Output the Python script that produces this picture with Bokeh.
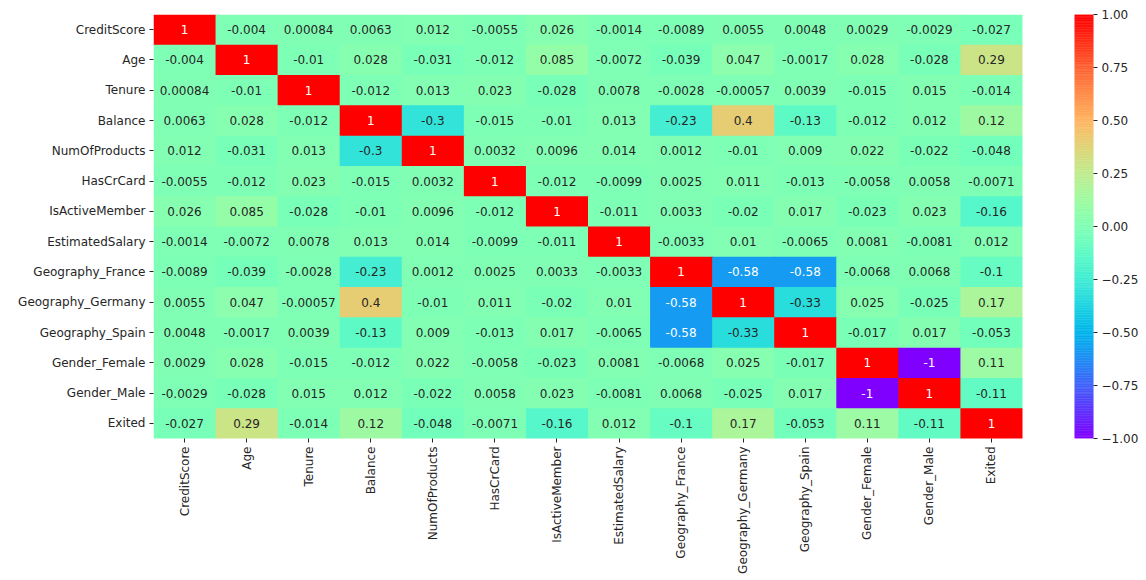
import math
from bokeh.plotting import figure
from bokeh.models import (ColumnDataSource, LinearColorMapper, FixedTicker,
                          CustomJSTickFormatter)
from bokeh.layouts import row
from bokeh.transform import transform
from bokeh.core.properties import value
from bokeh.embed import file_html
from bokeh.resources import INLINE

labels = ["CreditScore", "Age", "Tenure", "Balance", "NumOfProducts", "HasCrCard",
          "IsActiveMember", "EstimatedSalary", "Geography_France", "Geography_Germany",
          "Geography_Spain", "Gender_Female", "Gender_Male", "Exited"]

credit_score = [1, -0.004, 0.00084, 0.0063, 0.012, -0.0055, 0.026, -0.0014, -0.0089, 0.0055, 0.0048, 0.0029, -0.0029, -0.027]
age = [-0.004, 1, -0.01, 0.028, -0.031, -0.012, 0.085, -0.0072, -0.039, 0.047, -0.0017, 0.028, -0.028, 0.29]
tenure = [0.00084, -0.01, 1, -0.012, 0.013, 0.023, -0.028, 0.0078, -0.0028, -0.00057, 0.0039, -0.015, 0.015, -0.014]
balance = [0.0063, 0.028, -0.012, 1, -0.3, -0.015, -0.01, 0.013, -0.23, 0.4, -0.13, -0.012, 0.012, 0.12]
num_of_products = [0.012, -0.031, 0.013, -0.3, 1, 0.0032, 0.0096, 0.014, 0.0012, -0.01, 0.009, 0.022, -0.022, -0.048]
has_cr_card = [-0.0055, -0.012, 0.023, -0.015, 0.0032, 1, -0.012, -0.0099, 0.0025, 0.011, -0.013, -0.0058, 0.0058, -0.0071]
is_active_member = [0.026, 0.085, -0.028, -0.01, 0.0096, -0.012, 1, -0.011, 0.0033, -0.02, 0.017, -0.023, 0.023, -0.16]
estimated_salary = [-0.0014, -0.0072, 0.0078, 0.013, 0.014, -0.0099, -0.011, 1, -0.0033, 0.01, -0.0065, 0.0081, -0.0081, 0.012]
geo_france = [-0.0089, -0.039, -0.0028, -0.23, 0.0012, 0.0025, 0.0033, -0.0033, 1, -0.58, -0.58, -0.0068, 0.0068, -0.1]
geo_germany = [0.0055, 0.047, -0.00057, 0.4, -0.01, 0.011, -0.02, 0.01, -0.58, 1, -0.33, 0.025, -0.025, 0.17]
geo_spain = [0.0048, -0.0017, 0.0039, -0.13, 0.009, -0.013, 0.017, -0.0065, -0.58, -0.33, 1, -0.017, 0.017, -0.053]
gender_female = [0.0029, 0.028, -0.015, -0.012, 0.022, -0.0058, -0.023, 0.0081, -0.0068, 0.025, -0.017, 1, -1, 0.11]
gender_male = [-0.0029, -0.028, 0.015, 0.012, -0.022, 0.0058, 0.023, -0.0081, 0.0068, -0.025, 0.017, -1, 1, -0.11]
exited = [-0.027, 0.29, -0.014, 0.12, -0.048, -0.0071, -0.16, 0.012, -0.1, 0.17, -0.053, 0.11, -0.11, 1]

rows = [credit_score, age, tenure, balance, num_of_products, has_cr_card, is_active_member,
        estimated_salary, geo_france, geo_germany, geo_spain, gender_female, gender_male, exited]

cbar_ticks = [-1.0, -0.75, -0.5, -0.25, 0.0, 0.25, 0.5, 0.75, 1.0]
vmin, vmax = -1.0, 1.0


def rainbow_rgb(t):
    r = min(1.0, abs(2 * t - 0.5))
    g = max(0.0, math.sin(math.pi * t))
    b = max(0.0, math.cos(math.pi * t / 2))
    return r, g, b


def to_hex(rgb):
    return "#%02x%02x%02x" % tuple(int(round(c * 255)) for c in rgb)


N = 256
palette = [to_hex(rainbow_rgb(i / (N - 1))) for i in range(N)]


def text_color(v):
    t = (v - vmin) / (vmax - vmin)
    rgb = rainbow_rgb(t)
    lin = [c / 12.92 if c <= 0.03928 else ((c + 0.055) / 1.055) ** 2.4 for c in rgb]
    lum = 0.2126 * lin[0] + 0.7152 * lin[1] + 0.0722 * lin[2]
    return "#ffffff" if lum < 0.408 else "#262626"


xs, ys, vals, txts, tcols = [], [], [], [], []
for rname, r in zip(labels, rows):
    for cname, v in zip(labels, r):
        xs.append(cname)
        ys.append(rname)
        vals.append(v)
        txts.append("{:.2g}".format(v))
        tcols.append(text_color(v))

src = ColumnDataSource(dict(x=xs, y=ys, v=vals, t=txts, tc=tcols))
mapper = LinearColorMapper(palette=palette, low=vmin, high=vmax)

FONT = "DejaVu Sans"
FS = "12px"
H = 576

p = figure(width=1030, height=H, x_range=labels, y_range=list(reversed(labels)),
           output_backend="svg", toolbar_location=None,
           min_border_left=153, min_border_right=8, min_border_top=14, min_border_bottom=138)
p.rect(x="x", y="y", width=1, height=1, source=src, dilate=True,
       fill_color=transform("v", mapper), line_color=None)
p.text(x="x", y="y", text="t", source=src, text_color="tc",
       text_align="center", text_baseline="middle",
       text_font=value(FONT), text_font_size=FS)

p.outline_line_color = None
p.grid.grid_line_color = None
for ax in (p.xaxis, p.yaxis):
    ax.axis_line_color = None
    ax.major_tick_line_color = "#262626"
    ax.major_tick_in = 0
    ax.major_tick_out = 4
    ax.minor_tick_line_color = None
    ax.major_label_text_font = FONT
    ax.major_label_text_font_size = FS
    ax.major_label_text_color = "#262626"
    ax.major_label_standoff = 4
p.xaxis.major_label_orientation = math.pi / 2

# colour bar as its own small figure
step = (vmax - vmin) / N
cb_src = ColumnDataSource(dict(bottom=[vmin + i * step for i in range(N)],
                               top=[vmin + (i + 1) * step for i in range(N)],
                               color=palette))
c = figure(width=113, height=H, x_range=(0, 1), y_range=(vmin, vmax),
           output_backend="svg", toolbar_location=None, y_axis_location="right",
           min_border_left=44, min_border_right=50, min_border_top=14, min_border_bottom=138)
c.quad(left=0, right=1, bottom="bottom", top="top", source=cb_src,
       fill_color="color", line_color="color", line_width=0.5)
c.xaxis.visible = False
c.grid.grid_line_color = None
c.outline_line_color = None
c.yaxis.ticker = FixedTicker(ticks=cbar_ticks)
c.yaxis.formatter = CustomJSTickFormatter(code="return tick.toFixed(2).replace('-', '\\u2212');")
c.yaxis.axis_line_color = None
c.yaxis.major_tick_line_color = "#262626"
c.yaxis.major_tick_in = 0
c.yaxis.major_tick_out = 4
c.yaxis.minor_tick_line_color = None
c.yaxis.major_label_text_font = FONT
c.yaxis.major_label_text_font_size = FS
c.yaxis.major_label_text_color = "#262626"
c.yaxis.major_label_standoff = 4

layout = row(p, c)
open("out.html", "w").write(file_html(layout, INLINE))
